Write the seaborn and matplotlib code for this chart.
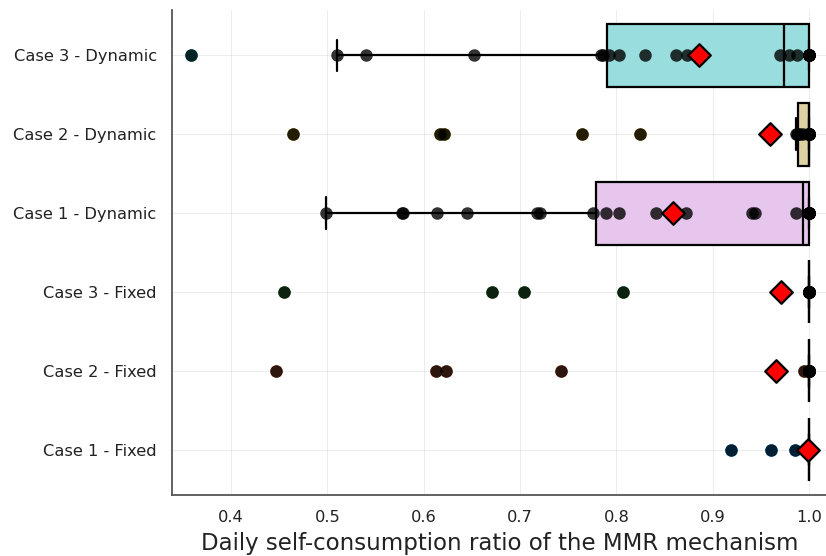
import numpy as np
import pandas as pd
import matplotlib
matplotlib.use("Agg")
import matplotlib.pyplot as plt
import matplotlib.colors as mcolors
import seaborn as sns

# Categories, top to bottom
cases = ["Case 3 - Dynamic", "Case 2 - Dynamic", "Case 1 - Dynamic",
         "Case 3 - Fixed", "Case 2 - Fixed", "Case 1 - Fixed"]

# Daily self-consumption ratios per case
case3_dynamic = [0.358, 0.510, 0.540, 0.652, 0.784, 0.786, 0.792, 0.803,
                 0.830, 0.862, 0.873, 0.970, 0.979, 0.988,
                 1.0, 1.0, 1.0, 1.0, 1.0, 1.0, 1.0, 1.0, 1.0, 1.0]
case2_dynamic = [0.4646, 0.6172, 0.6211, 0.7642, 0.8244, 0.9862, 0.9875,
                 0.9885, 0.9905, 0.9940,
                 1.0, 1.0, 1.0, 1.0, 1.0, 1.0, 1.0, 1.0, 1.0, 1.0,
                 1.0, 1.0, 1.0, 1.0, 1.0, 1.0, 1.0, 1.0, 1.0, 1.0]
case1_dynamic = [0.499, 0.577, 0.579, 0.614, 0.645, 0.7175, 0.7206, 0.776,
                 0.7895, 0.8026, 0.8415, 0.8723, 0.9408, 0.9439, 0.9866,
                 1.0, 1.0, 1.0, 1.0, 1.0, 1.0, 1.0, 1.0, 1.0, 1.0,
                 1.0, 1.0, 1.0, 1.0, 1.0]
case3_fixed = [0.455, 0.6705, 0.704, 0.8074,
               1.0, 1.0, 1.0, 1.0, 1.0, 1.0, 1.0, 1.0, 1.0, 1.0,
               1.0, 1.0, 1.0, 1.0, 1.0, 1.0, 1.0, 1.0, 1.0, 1.0,
               1.0, 1.0, 1.0, 1.0, 1.0, 1.0]
case2_fixed = [0.4471, 0.6124, 0.6233, 0.7428, 0.9953,
               1.0, 1.0, 1.0, 1.0, 1.0, 1.0, 1.0, 1.0, 1.0, 1.0,
               1.0, 1.0, 1.0, 1.0, 1.0, 1.0, 1.0, 1.0, 1.0, 1.0,
               1.0, 1.0, 1.0, 1.0, 1.0]
case1_fixed = [0.9195, 0.9605, 0.9853,
               1.0, 1.0, 1.0, 1.0, 1.0, 1.0, 1.0, 1.0, 1.0, 1.0,
               1.0, 1.0, 1.0, 1.0, 1.0, 1.0, 1.0, 1.0, 1.0, 1.0,
               1.0, 1.0, 1.0, 1.0, 1.0, 1.0, 1.0]

# Overall (energy-weighted) self-consumption ratio per case
overall_ratio = [0.8855, 0.9596, 0.8584, 0.9705, 0.9653, 0.9989]

series_colors = ["#00A9AD", "#AC8E18", "#C371D2", "#3EA44E", "#E36F47", "#009AFA"]
x_ticks = [0.4, 0.5, 0.6, 0.7, 0.8, 0.9, 1.0]

daily = [case3_dynamic, case2_dynamic, case1_dynamic,
         case3_fixed, case2_fixed, case1_fixed]
df = pd.DataFrame({
    "case": np.repeat(cases, [len(d) for d in daily]),
    "ratio": np.concatenate(daily),
})


def tint(color, alpha=0.4):
    rgb = np.array(mcolors.to_rgb(color))
    return tuple(alpha * rgb + (1 - alpha) * np.ones(3))


box_palette = {c: tint(col) for c, col in zip(cases, series_colors)}

sns.set_style("white")
plt.rcParams["font.family"] = ["DejaVu Sans"]

W, H = 826, 556
fig = plt.figure(figsize=(W / 100, H / 100), dpi=100)
ax = fig.add_axes([172 / W, 61 / H, (827.6 - 172) / W, 485 / H])

sns.boxplot(data=df, x="ratio", y="case", hue="case", order=cases,
            hue_order=cases, palette=box_palette, saturation=1, width=0.8,
            whis=1.5, linecolor="black", linewidth=1.6, fliersize=9,
            flierprops=dict(marker="o", markeredgewidth=0),
            legend=False, ax=ax)

# colour the outlier markers with their series colour
for line in ax.lines:
    if line.get_marker() == "o" and len(line.get_ydata()) > 0:
        idx = int(round(float(np.mean(line.get_ydata()))))
        line.set_markerfacecolor(series_colors[idx])
        line.set_markeredgecolor(series_colors[idx])

sns.stripplot(data=df, x="ratio", y="case", order=cases, jitter=False,
              color="black", alpha=0.8, size=9, linewidth=0, ax=ax,
              zorder=3)

sns.stripplot(x=overall_ratio, y=cases, order=cases, jitter=False,
              marker="D", color="red", edgecolor="black", linewidth=1.6,
              size=11.5, ax=ax, zorder=4)

ax.set_xlim(0.3387, 1.0193)
ax.set_ylim(5.574, -0.574)
ax.set_xticks(x_ticks)
ax.set_xticklabels([f"{t:.1f}" for t in x_ticks])
ax.set_xlabel("Daily self-consumption ratio of the MMR mechanism",
              fontsize=16.5, color="#222222", labelpad=5)
ax.set_ylabel("")

ax.grid(True, color="black", alpha=0.07, linewidth=0.8)
ax.set_axisbelow(True)
for side in ["top", "right"]:
    ax.spines[side].set_visible(False)
for side in ["left", "bottom"]:
    ax.spines[side].set_color("#555555")
    ax.spines[side].set_linewidth(1.3)
ax.tick_params(axis="both", direction="in", length=5, width=1,
               color="#555555", labelcolor="#222222")
ax.tick_params(axis="y", labelsize=11.7, pad=11)
ax.tick_params(axis="x", labelsize=11.7, pad=11)

fig.savefig("out.png", dpi=100)
